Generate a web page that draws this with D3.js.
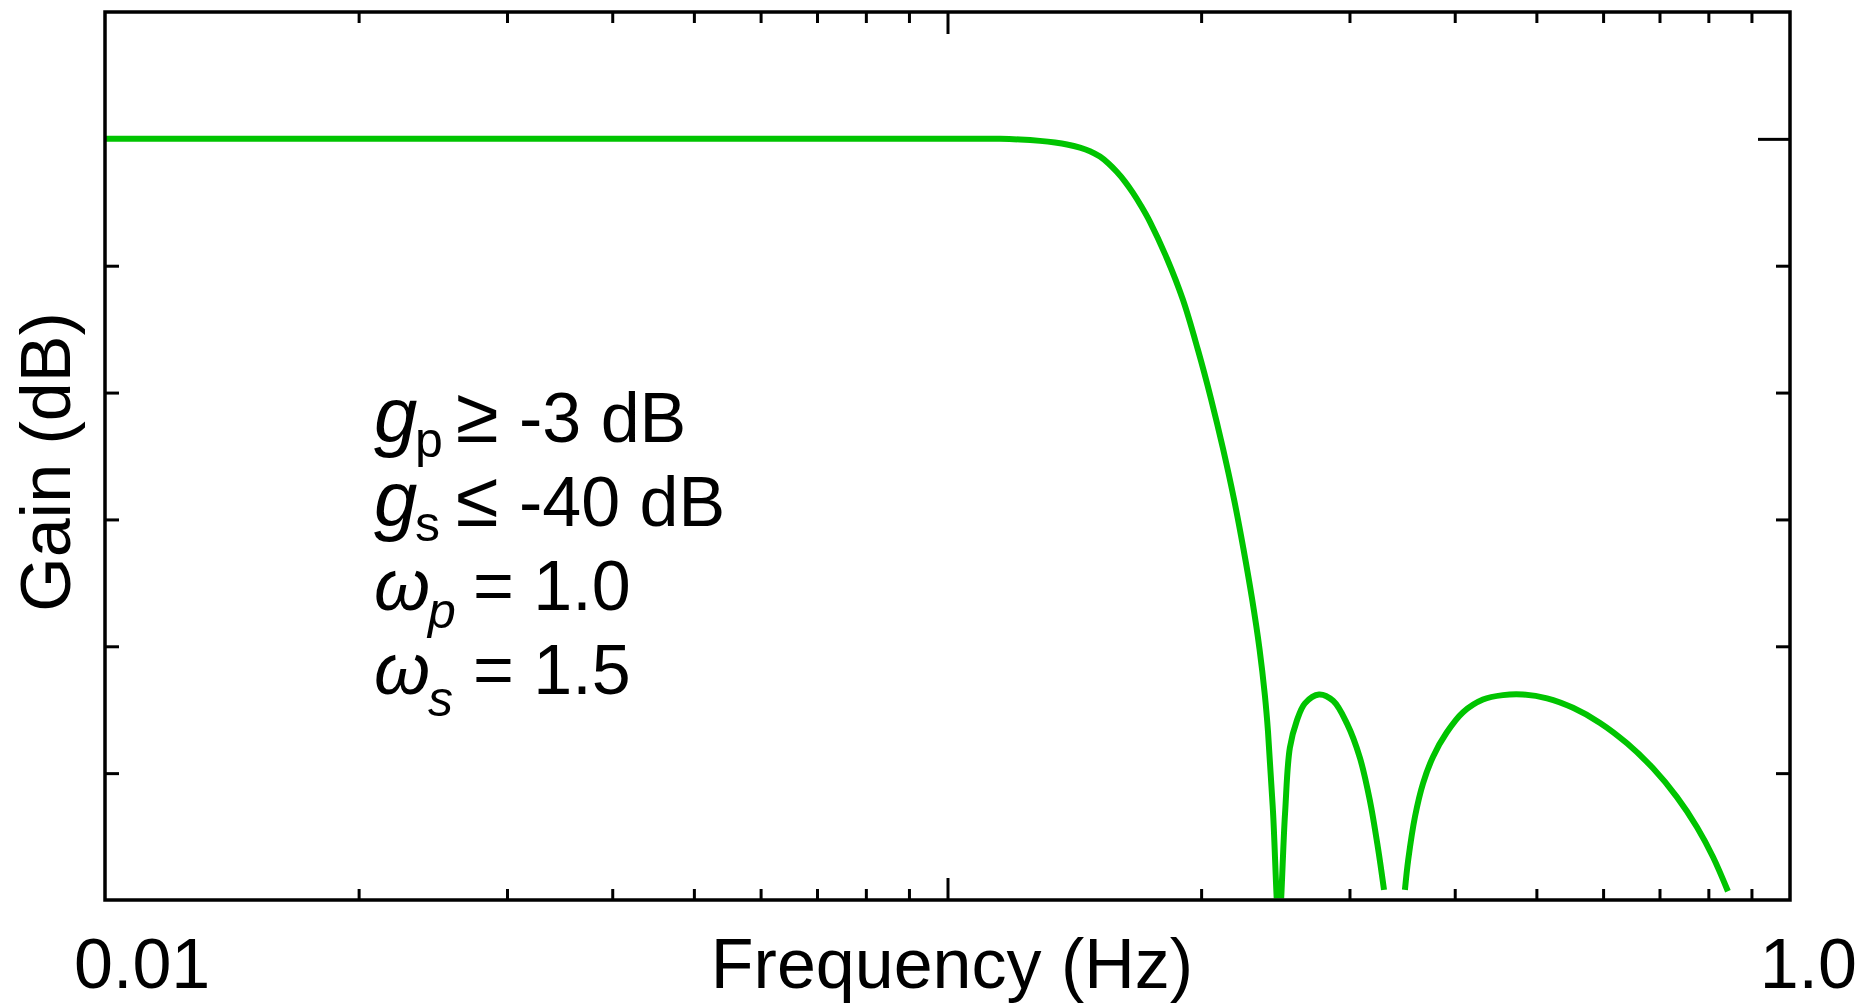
<!DOCTYPE html>
<html>
<head>
<meta charset="utf-8">
<script src="https://cdn.jsdelivr.net/npm/d3@7"></script>
<style>
  html, body { margin: 0; padding: 0; background: #ffffff; }
  svg { display: block; font-family: "Liberation Sans", Arial, sans-serif; }
</style>
</head>
<body>
<svg id="chart" width="1875" height="1003"></svg>
<script>
// Magnitude response of the low-pass filter (frequency in Hz, gain in dB).
// A null gain splits the trace where it dips below the plotted range.
const freqHz = [
  0.01, 0.03, 0.06, 0.1, 0.11544, 0.12193, 0.12877, 0.13415, 0.13862, 0.14363,
  0.14761, 0.15170, 0.15505, 0.15891, 0.16242, 0.16601, 0.16968, 0.17390, 0.18216, 0.19031,
  0.1982, 0.2055, 0.2123, 0.2188, 0.2245, 0.2298, 0.2346, 0.2381, 0.2401, 0.2434,
  0.2474, 0.2515, 0.2549, 0.2597, 0.2656, 0.2760, 0.2869, 0.2980, 0.3087, 0.3173,
  0.3243, 0.3297, 0.34,
  0.3491, 0.3523, 0.3589, 0.3668, 0.3770, 0.3913, 0.4092, 0.4321, 0.4563, 0.4820,
  0.5148, 0.5527, 0.5950, 0.6405, 0.6878, 0.7342, 0.7756, 0.8100, 0.8440
];
const gainDb = [
  0, 0, 0, 0, 0, -0.05, -0.16, -0.29, -0.44, -0.69,
  -0.97, -1.40, -1.91, -2.62, -3.37, -4.26, -5.27, -6.54, -9.43, -12.69,
  -16.6, -20.5, -24.4, -28.4, -32.3, -36.2, -40.2, -43.9, -46.7, -53,
  -62, -53.3, -48, -45.9, -44.5, -43.8, -44.3, -46.1, -48.8, -52.2,
  -55.9, -59.2, null,
  -59.2, -56.8, -53.4, -50.8, -48.7, -46.8, -45.2, -44.2, -43.85, -43.8,
  -44.1, -44.85, -46.04, -47.65, -49.62, -51.89, -54.26, -56.59, -59.31
];

// Axis ticks and labels
const xMinorTicks = [0.02, 0.03, 0.04, 0.05, 0.06, 0.07, 0.08, 0.09,
                     0.2, 0.3, 0.4, 0.5, 0.6, 0.7, 0.8, 0.9];
const xMajorTicks = [0.1];
const xTickLabels = ["0.01", "1.0"];
const xTickLabelValues = [0.01, 1.0];
const yMinorTicks = [-10, -20, -30, -40, -50];
const yMajorTicks = [0];

// Filter specification text
const specLines = [
  { sym: "g", sub: "p", op: "\u2265", val: "-3 dB" },
  { sym: "g", sub: "s", op: "\u2264", val: "-40 dB" },
  { sym: "\u03C9", sub: "p", op: "=", val: "1.0" },
  { sym: "\u03C9", sub: "s", op: "=", val: "1.5" }
];

const W = 1875, H = 1003;
const margin = { top: 12, right: 85, bottom: 103, left: 105 };
const svg = d3.select("#chart");

const x = d3.scaleLog().domain([0.01, 1]).range([margin.left, W - margin.right]);
const y = d3.scaleLinear().domain([-60, 10]).range([H - margin.bottom, margin.top]);

const x0 = margin.left, x1 = W - margin.right, y0 = margin.top, y1 = H - margin.bottom;
const GREEN = "rgb(0,196,0)";

// clip region for the response trace
svg.append("defs").append("clipPath").attr("id", "plotClip")
  .append("rect")
  .attr("x", x0 - 8).attr("y", y0 - 2)
  .attr("width", x1 - x0 + 10).attr("height", y1 - y0 + 0.5);

// response trace
const pts = freqHz.map((f, i) => ({ f, g: gainDb[i] }));
const line = d3.line()
  .defined(d => d.g !== null)
  .x(d => x(d.f))
  .y(d => y(d.g))
  .curve(d3.curveCatmullRom.alpha(0.5));

svg.append("path")
  .datum(pts)
  .attr("clip-path", "url(#plotClip)")
  .attr("fill", "none")
  .attr("stroke", GREEN)
  .attr("stroke-width", 6)
  .attr("d", line);

// tick marks (all pointing into the plot)
function styleAxis(g) {
  g.select(".domain").remove();
  g.selectAll(".tick line").attr("stroke", "#000").attr("stroke-width", 3);
  g.selectAll(".tick text").remove();
}
const minorLen = 11, majorLen = 22, yMinorLen = 14, yMajorLen = 32;

svg.append("g").attr("transform", `translate(0,${y1})`)
  .call(d3.axisBottom(x).tickValues(xMinorTicks).tickSize(-minorLen).tickFormat(""))
  .call(styleAxis);
svg.append("g").attr("transform", `translate(0,${y1})`)
  .call(d3.axisBottom(x).tickValues(xMajorTicks).tickSize(-majorLen).tickFormat(""))
  .call(styleAxis);
svg.append("g").attr("transform", `translate(0,${y0})`)
  .call(d3.axisTop(x).tickValues(xMinorTicks).tickSize(-minorLen).tickFormat(""))
  .call(styleAxis);
svg.append("g").attr("transform", `translate(0,${y0})`)
  .call(d3.axisTop(x).tickValues(xMajorTicks).tickSize(-majorLen).tickFormat(""))
  .call(styleAxis);
svg.append("g").attr("transform", `translate(${x0},0)`)
  .call(d3.axisLeft(y).tickValues(yMinorTicks).tickSize(-yMinorLen).tickFormat(""))
  .call(styleAxis);
svg.append("g").attr("transform", `translate(${x1},0)`)
  .call(d3.axisRight(y).tickValues(yMinorTicks).tickSize(-yMinorLen).tickFormat(""))
  .call(styleAxis);
svg.append("g").attr("transform", `translate(${x1},0)`)
  .call(d3.axisRight(y).tickValues(yMajorTicks).tickSize(-yMajorLen).tickFormat(""))
  .call(styleAxis);

// frame
svg.append("rect")
  .attr("x", x0).attr("y", y0)
  .attr("width", x1 - x0).attr("height", y1 - y0)
  .attr("fill", "none")
  .attr("stroke", "#000")
  .attr("stroke-width", 3.5);

// x end labels
const labelBase = 988;
svg.append("g").selectAll("text")
  .data(xTickLabels.map((t, i) => ({ t, v: xTickLabelValues[i], i })))
  .join("text")
  .attr("x", d => d.i === 0 ? x(d.v) - 31 : x(d.v) + 67)
  .attr("y", labelBase)
  .attr("text-anchor", d => d.i === 0 ? "start" : "end")
  .attr("font-size", 70)
  .attr("fill", "#000")
  .text(d => d.t);

// axis titles
svg.append("text")
  .attr("x", 952).attr("y", labelBase)
  .attr("text-anchor", "middle")
  .attr("font-size", 70)
  .text("Frequency (Hz)");

svg.append("text")
  .attr("transform", "translate(70,462) rotate(-90)")
  .attr("text-anchor", "middle")
  .attr("font-size", 70)
  .text("Gain (dB)");

// specification block
const spec = svg.append("g").attr("fill", "#000");
const baselines = [442, 526, 610, 694];
specLines.forEach((s, i) => {
  const b = baselines[i];
  const isG = s.sym === "g";
  spec.append("text")
    .attr("x", 374).attr("y", b)
    .attr("font-size", isG ? 78 : 72)
    .attr("font-style", "italic")
    .text(s.sym);
  spec.append("text")
    .attr("x", isG ? 415 : 428).attr("y", b + (isG ? 15 : (s.sub === "s" ? 22 : 18)))
    .attr("font-size", 50)
    .attr("font-style", isG ? "normal" : "italic")
    .text(s.sub);
  if (isG) {
    spec.append("text")
      .attr("x", 456).attr("y", b)
      .attr("font-size", 78)
      .text(s.op);
    spec.append("text")
      .attr("x", 519).attr("y", b)
      .attr("font-size", 70)
      .text(s.val);
  } else {
    spec.append("text")
      .attr("x", 473).attr("y", b)
      .attr("font-size", 70)
      .text(s.op + " " + s.val);
  }
});
</script>
</body>
</html>
